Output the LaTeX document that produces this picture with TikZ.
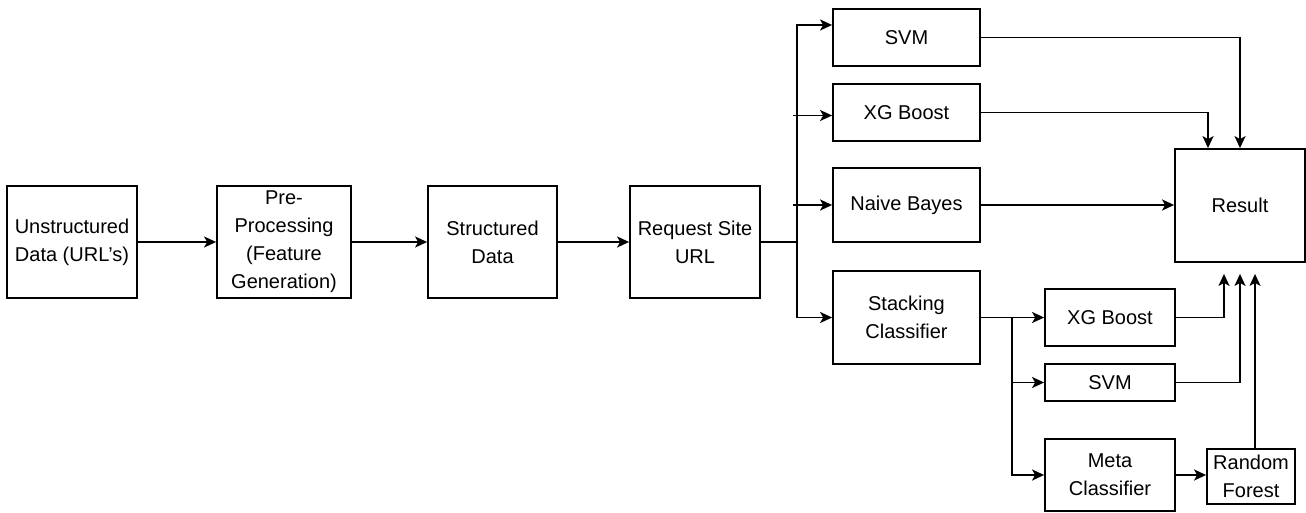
\documentclass[tikz,border=0pt]{standalone}
\usepackage{fontspec}
\setmainfont{Liberation Sans}
\usetikzlibrary{arrows.meta,calc}
\begin{document}
\begin{tikzpicture}[x=1pt,y=-1pt,
  box/.style={draw,line width=1.8pt,inner sep=0pt,align=center,
    font=\fontsize{20}{28}\selectfont},
  arr/.style={line width=1.8pt,-{Stealth[length=12pt,width=11pt,inset=3pt]}},
  ln/.style={line width=1.8pt}]
\useasboundingbox (0,0) rectangle (1306,513);
\node[box,minimum width=130pt,minimum height=112pt] (unst) at (72,242) {Unstructured\\Data (URL's)};
\node[box,minimum width=134pt,minimum height=112pt] (pre) at (284,242) {Pre-\\Processing\\(Feature\\Generation)};
\node[box,minimum width=129pt,minimum height=112pt] (str) at (492.5,242) {Structured\\Data};
\node[box,minimum width=130pt,minimum height=112pt] (req) at (695,242) {Request Site\\URL};
\node[box,minimum width=147pt,minimum height=57pt] (svm) at (906.5,37.5) {SVM};
\node[box,minimum width=147pt,minimum height=57pt] (xgb) at (906.5,112.5) {XG Boost};
\node[box,minimum width=147pt,minimum height=74pt] (nb) at (906.5,205) {Naive Bayes};
\node[box,minimum width=147pt,minimum height=93pt] (stk) at (906.5,317.5) {Stacking\\Classifier};
\node[box,minimum width=130pt,minimum height=113pt] (res) at (1240,205.5) {Result};
\node[box,minimum width=130pt,minimum height=57pt] (xgb2) at (1110,317.5) {XG Boost};
\node[box,minimum width=130pt,minimum height=37pt] (svm2) at (1110,382.5) {SVM};
\node[box,minimum width=130pt,minimum height=72pt] (meta) at (1110,475) {Meta\\Classifier};
\node[box,minimum width=88pt,minimum height=55pt] (rf) at (1251,476.5) {Random\\Forest};
\coordinate (tr) at (797,242);
\coordinate (tl) at (793,242);
\coordinate (br) at (1012,317.5);
\coordinate (rb) at ([yshift=-11pt]res.south);
\coordinate (xin) at ([yshift=-3pt]xgb.west);
\draw[arr] (unst.east) -- (pre.west);
\draw[arr] (pre.east) -- (str.west);
\draw[arr] (str.east) -- (req.west);
\draw[ln] (req.east) -- (tr);
\draw[arr] (tr) |- ([yshift=12.5pt]svm.west);
\draw[arr] (tr) |- (stk.west);
\draw[arr] (tl |- xin) -- (xin);
\draw[arr] (tl |- nb.west) -- (nb.west);
\draw[arr] (svm.east) -| (res.north);
\draw[arr] (xgb.east) -| ([xshift=-32pt]res.north);
\draw[arr] (nb.east) -- (res.west |- nb.east);
\draw[arr] (stk.east) -- (xgb2.west);
\draw[arr] (br) |- (svm2.west);
\draw[arr] (br) |- (meta.west);
\draw[arr] (meta.east) -- (rf.west |- meta.east);
\draw[arr] (xgb2.east) -| ([xshift=-16pt]rb);
\draw[arr] (svm2.east) -| (rb);
\draw[arr] ([xshift=4pt]rf.north) -- ([xshift=4pt]rf.north |- rb);
\end{tikzpicture}
\end{document}
